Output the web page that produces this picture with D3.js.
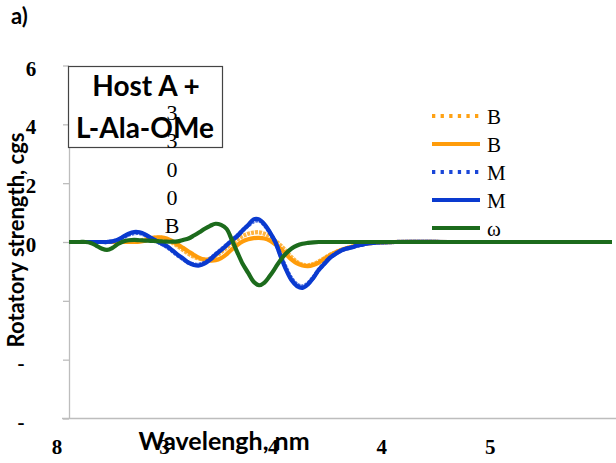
<!DOCTYPE html>
<html>
<head>
<meta charset="utf-8">
<script src="https://cdn.jsdelivr.net/npm/d3@7"></script>
<style>
  html, body { margin: 0; padding: 0; background: #fff; }
  svg { display: block; }
</style>
</head>
<body>
<svg id="chart" width="616" height="463"></svg>
<script>
// Wavelength grid (nm)
const wavelength = [
  200, 205, 210, 215, 220, 225, 230, 235, 240, 245,
  250, 255, 260, 265, 270, 275, 280, 285, 290, 295,
  300, 305, 310, 315, 320, 325, 330, 335, 340, 345,
  350, 355, 360, 365, 370, 375, 380, 385, 390, 395,
  400, 405, 410, 415, 420, 425, 430, 435, 440, 445,
  450, 455, 460, 465, 470, 475, 480,
  500, 550, 600, 650, 700
];

// Rotatory strengths (cgs) per series
const bDotted = [
  0, 0, 0, 0, 0, 0, 0, 0, 0, 0,
  0, 0, 0.01, 0.04, 0.09, 0.14, 0.16, 0.14, 0.08, -0.02,
  -0.14, -0.27, -0.40, -0.50, -0.57, -0.60, -0.56, -0.47, -0.35, -0.20,
  -0.05, 0.08, 0.20, 0.28, 0.32, 0.33, 0.28, 0.18, 0.04, -0.12,
  -0.32, -0.52, -0.68, -0.77, -0.79, -0.75, -0.66, -0.55, -0.44, -0.35,
  -0.27, -0.21, -0.16, -0.11, -0.07, -0.05, -0.03,
  0, 0, 0, 0, 0
];
const bSolid = [
  0, 0, 0, 0, 0, 0, 0, 0, 0, 0,
  0, 0, 0, 0.01, 0.04, 0.10, 0.15, 0.16, 0.12, 0.03,
  -0.08, -0.20, -0.32, -0.44, -0.54, -0.60, -0.63, -0.62, -0.55, -0.42,
  -0.25, -0.10, 0.02, 0.09, 0.13, 0.14, 0.12, 0.05, -0.08, -0.24,
  -0.42, -0.60, -0.73, -0.80, -0.82, -0.78, -0.70, -0.58, -0.46, -0.36,
  -0.28, -0.22, -0.17, -0.12, -0.08, -0.05, -0.03,
  0, 0, 0, 0, 0
];
const mDotted = [
  0, 0, 0, 0, 0, 0, 0, 0, 0.02, 0.07,
  0.16, 0.25, 0.30, 0.30, 0.24, 0.14, 0.04, -0.06, -0.16, -0.30,
  -0.45, -0.58, -0.70, -0.76, -0.77, -0.70, -0.57, -0.41, -0.26, -0.10,
  0.06, 0.22, 0.40, 0.56, 0.70, 0.73, 0.58, 0.31, 0.00, -0.47,
  -0.90, -1.25, -1.45, -1.51, -1.41, -1.20, -0.94, -0.73, -0.54, -0.41,
  -0.30, -0.23, -0.18, -0.13, -0.09, -0.05, -0.03,
  0, 0, 0, 0, 0
];
const mSolid = [
  0, 0, 0, 0, 0, 0, 0, 0, 0.02, 0.08,
  0.18, 0.28, 0.34, 0.33, 0.26, 0.15, 0.05, -0.05, -0.14, -0.28,
  -0.43, -0.56, -0.70, -0.78, -0.80, -0.73, -0.60, -0.43, -0.28, -0.12,
  0.05, 0.20, 0.40, 0.58, 0.77, 0.77, 0.60, 0.33, 0.00, -0.50,
  -0.95, -1.30, -1.50, -1.56, -1.44, -1.22, -0.95, -0.75, -0.55, -0.42,
  -0.30, -0.23, -0.19, -0.13, -0.09, -0.05, -0.03,
  0, 0, 0, 0, 0
];
const omega = [
  0, 0, 0, 0, -0.03, -0.12, -0.22, -0.27, -0.20, -0.07,
  0.02, 0.06, 0.07, 0.06, 0.05, 0.04, 0.03, 0.02, 0.01, 0.01,
  0.02, 0.07, 0.12, 0.22, 0.33, 0.45, 0.55, 0.62, 0.58, 0.45,
  0.07, -0.35, -0.75, -1.05, -1.35, -1.47, -1.38, -1.15, -0.88, -0.60,
  -0.38, -0.22, -0.12, -0.06, -0.03, -0.01, 0, 0, 0, 0,
  0, 0, 0, 0, 0, 0, 0,
  0, 0, 0, 0, 0
];

const seriesNames = ["B", "B", "M", "M", "\u03c9"];
const seriesValues = [bDotted, bSolid, mDotted, mSolid, omega];
const seriesColors = ["#ffa214", "#ff9c0a", "#1a46d8", "#0a3acf", "#1c6b1c"];
const seriesDotted = [true, false, true, false, false];

const yTickValues = [-6, -4, -2, 0, 2, 4, 6];
const yTickLabels = ["-", "-", "", "0", "2", "4", "6"];
const xTickValues = [189, 288, 388, 488, 588];
const xTickLabels = ["8", "3", "4", "4", "5"];
const stackLabels = ["3", "3", "0", "0", "B"];

const svg = d3.select("#chart");
const x = d3.scaleLinear().domain([200, 700]).range([69, 612]);
const y = d3.scaleLinear().domain([-6, 6]).range([418.5, 65.5]);

const sans = "Lato, 'Open Sans', sans-serif";
const serif = "'Liberation Serif', 'Times New Roman', serif";

// panel tag
svg.append("text").attr("x", 11).attr("y", 24)
  .attr("font-family", sans).attr("font-weight", 700).attr("font-size", 22)
  .attr("fill", "#000").text("a)");

// left axis with outward ticks
const yAxis = svg.append("g").attr("transform", `translate(${x(200)},0)`)
  .call(d3.axisLeft(y).tickValues(yTickValues).tickSize(6).tickSizeOuter(0).tickFormat(""));
yAxis.select(".domain").attr("stroke", "#bdbdbd").attr("stroke-width", 1.3);
yAxis.selectAll(".tick line").attr("stroke", "#bdbdbd").attr("stroke-width", 1.3);

// bottom axis line
svg.append("line")
  .attr("x1", 62).attr("x2", 616).attr("y1", y(-6)).attr("y2", y(-6))
  .attr("stroke", "#bdbdbd").attr("stroke-width", 1.3);

// y tick labels
svg.append("g").selectAll("text").data(yTickValues).join("text")
  .attr("x", (d, i) => yTickLabels[i] === "-" ? 21 : 31)
  .attr("y", d => y(d) + 3)
  .attr("text-anchor", "middle").attr("dominant-baseline", "central")
  .attr("font-family", serif).attr("font-weight", 700).attr("font-size", 21)
  .text((d, i) => yTickLabels[i]);

// x tick labels
svg.append("g").selectAll("text").data(xTickValues).join("text")
  .attr("x", d => x(d)).attr("y", 454)
  .attr("text-anchor", "middle")
  .attr("font-family", serif).attr("font-weight", 700).attr("font-size", 21)
  .text((d, i) => xTickLabels[i]);

// axis titles
svg.append("text").attr("x", 224).attr("y", 450)
  .attr("text-anchor", "middle")
  .attr("font-family", sans).attr("font-weight", 700).attr("font-size", 25)
  .text("Wavelengh, nm");
svg.append("text")
  .attr("transform", "translate(24,240) rotate(-90)")
  .attr("text-anchor", "middle")
  .attr("font-family", sans).attr("font-weight", 700).attr("font-size", 22)
  .text("Rotatory strength, cgs");

// spectra
const line = d3.line()
  .x(d => x(d[0])).y(d => y(d[1]))
  .curve(d3.curveCatmullRom.alpha(0.5));

svg.append("g").selectAll("path")
  .data(seriesValues.map((vals, i) => ({ i, pts: wavelength.map((w, k) => [w, vals[k]]) })))
  .join("path")
  .attr("d", d => line(d.pts))
  .attr("fill", "none")
  .attr("stroke", d => seriesColors[d.i])
  .attr("stroke-width", 4.2)
  .attr("stroke-linejoin", "round")
  .attr("stroke-opacity", d => seriesDotted[d.i] ? 0.8 : 1)
  .attr("stroke-dasharray", d => seriesDotted[d.i] ? "3 1" : null);

// title box
const box = svg.append("g");
box.append("rect").attr("x", 68.5).attr("y", 66.5).attr("width", 154).attr("height", 81)
  .attr("fill", "#fff").attr("stroke", "#444").attr("stroke-width", 1.2);
box.append("text").attr("x", 146).attr("y", 96)
  .attr("text-anchor", "middle")
  .attr("font-family", sans).attr("font-weight", 700).attr("font-size", 28)
  .text("Host A +");
box.append("text").attr("x", 145).attr("y", 138)
  .attr("text-anchor", "middle")
  .attr("font-family", sans).attr("font-weight", 700).attr("font-size", 28)
  .text("L-Ala-OMe");

// stacked labels
svg.append("g").selectAll("text").data(stackLabels).join("text")
  .attr("x", 172).attr("y", (d, i) => 112.5 + i * 28.3)
  .attr("text-anchor", "middle").attr("dominant-baseline", "central")
  .attr("font-family", serif).attr("font-size", 22)
  .text(d => d);

// legend
const legend = svg.append("g");
seriesNames.forEach((name, i) => {
  const ly = 116 + i * 28;
  legend.append("line")
    .attr("x1", 432).attr("x2", 480).attr("y1", ly).attr("y2", ly)
    .attr("stroke", seriesColors[i]).attr("stroke-width", 4)
    .attr("stroke-dasharray", seriesDotted[i] ? "3.3 5.3" : null);
  legend.append("text")
    .attr("x", 487).attr("y", ly + 1)
    .attr("dominant-baseline", "central")
    .attr("font-family", serif).attr("font-size", 21)
    .text(name);
});
</script>
</body>
</html>
